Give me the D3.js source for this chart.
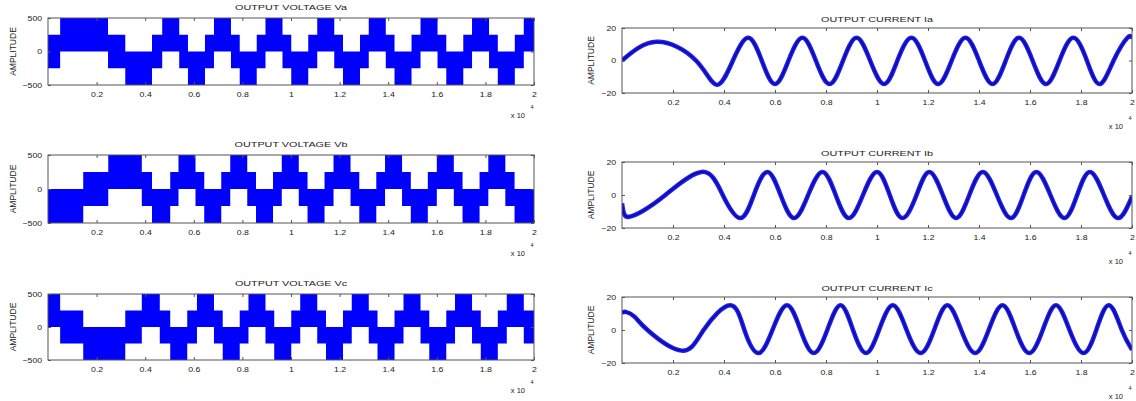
<!DOCTYPE html>
<html>
<head>
<meta charset="utf-8">
<script src="https://cdn.jsdelivr.net/npm/d3@7"></script>
<style>
body { margin: 0; background: #fff; }
text { font-family: "Liberation Sans", Arial, sans-serif; fill: #222; }
</style>
</head>
<body>
<div id="chart"></div>
<script>
// x axis ticks (x 10^4 samples)
var xTicks = [0.2, 0.4, 0.6, 0.8, 1, 1.2, 1.4, 1.6, 1.8, 2];
var voltTicks = [-500, 0, 500];
var currTicks = [-20, 0, 20];
var halfBand = 250;   // PWM band: level +/- 250

// voltage: [time, band middle level]
var vaSteps = [[0,0],[0.05,250],[0.247,0],[0.318,-250],[0.428,0],[0.47,250],[0.54,0],[0.576,-250],[0.646,0],
  [0.683,250],[0.753,0],[0.789,-250],[0.859,0],[0.895,250],[0.965,0],[1.001,-250],[1.071,0],[1.108,250],
  [1.178,0],[1.214,-250],[1.284,0],[1.32,250],[1.39,0],[1.426,-250],[1.496,0],[1.533,250],[1.603,0],
  [1.639,-250],[1.709,0],[1.745,250],[1.815,0],[1.851,-250],[1.921,0],[1.958,250],[2,250]];
var vbSteps = [[0,-250],[0.145,0],[0.248,250],[0.386,0],[0.428,-250],[0.503,0],[0.537,250],[0.607,0],
  [0.643,-250],[0.713,0],[0.75,250],[0.82,0],[0.856,-250],[0.926,0],[0.962,250],[1.032,0],[1.068,-250],
  [1.138,0],[1.175,250],[1.245,0],[1.281,-250],[1.351,0],[1.387,250],[1.457,0],[1.493,-250],[1.563,0],
  [1.6,250],[1.67,0],[1.706,-250],[1.776,0],[1.812,250],[1.882,0],[1.92,-250],[2,-250]];
var vcSteps = [[0,250],[0.05,0],[0.145,-250],[0.318,0],[0.386,250],[0.46,0],[0.503,-250],[0.573,0],
  [0.613,250],[0.683,0],[0.719,-250],[0.789,0],[0.825,250],[0.895,0],[0.931,-250],[1.001,0],[1.038,250],
  [1.108,0],[1.144,-250],[1.214,0],[1.25,250],[1.32,0],[1.356,-250],[1.426,0],[1.463,250],[1.533,0],
  [1.569,-250],[1.639,0],[1.675,250],[1.745,0],[1.781,-250],[1.851,0],[1.888,250],[1.958,0],[2,0]];

// current: [time, amps] (extrema and zero crossings)
var iaPts = [[0,0],[0.136,11.5],[0.29,0],[0.372,-15],[0.435,0],[0.495,14],[0.548,0],[0.6,-14.5],[0.653,0],
  [0.7075,14],[0.76,0],[0.814,-14.5],[0.867,0],[0.92,14],[0.973,0],[1.028,-14.5],[1.08,0],[1.135,14],
  [1.188,0],[1.24,-14.5],[1.293,0],[1.347,14],[1.4,0],[1.453,-14.5],[1.505,0],[1.557,14],[1.61,0],
  [1.663,-14.5],[1.716,0],[1.77,14],[1.823,0],[1.873,-14.5],[1.928,0],[1.982,14],[2,13.5]];
var ibPts = [[0,-5],[0.01,-12],[0.035,-13],[0.083,-9.5],[0.17,0],[0.313,14],[0.395,0],[0.464,-14],
  [0.517,0],[0.57,14],[0.622,0],[0.675,-14],[0.73,0],[0.786,14],[0.838,0],[0.89,-14],[0.945,0],[1,14],
  [1.05,0],[1.1,-14],[1.155,0],[1.205,14],[1.258,0],[1.31,-14],[1.362,0],[1.415,14],[1.47,0],[1.525,-14],
  [1.575,0],[1.625,14],[1.68,0],[1.735,-14],[1.785,0],[1.835,14],[1.89,0],[1.945,-14],[2,-1]];
var icPts = [[0,10],[0.015,11],[0.05,8],[0.1,0],[0.234,-12.5],[0.32,0],[0.424,15],[0.48,0],[0.535,-14],
  [0.59,0],[0.647,15],[0.7,0],[0.752,-14],[0.805,0],[0.857,15],[0.906,0],[0.957,-14],[1.008,0],[1.062,15],
  [1.116,0],[1.171,-14],[1.224,0],[1.276,15],[1.33,0],[1.385,-14],[1.438,0],[1.492,15],[1.544,0],
  [1.597,-14],[1.65,0],[1.702,15],[1.755,0],[1.81,-14],[1.86,0],[1.91,15],[1.96,0],[2,-12]];

var panels = [
  {title: "OUTPUT VOLTAGE Va", data: vaSteps, kind: "v", col: 0, row: 0},
  {title: "OUTPUT VOLTAGE Vb", data: vbSteps, kind: "v", col: 0, row: 1},
  {title: "OUTPUT VOLTAGE Vc", data: vcSteps, kind: "v", col: 0, row: 2},
  {title: "OUTPUT CURRENT Ia", data: iaPts, kind: "i", col: 1, row: 0},
  {title: "OUTPUT CURRENT Ib", data: ibPts, kind: "i", col: 1, row: 1},
  {title: "OUTPUT CURRENT Ic", data: icPts, kind: "i", col: 1, row: 2}
];

var width = 1136, height = 401;
var colX = [[48, 534], [622, 1132]];
var rowY = [[[18, 85], [155, 223], [294, 360]], [[28, 93], [162, 228], [297, 363]]];

var svg = d3.select("#chart").append("svg")
  .attr("width", width)
  .attr("height", height);

function styleAxis(sel, sx) {
  sel.select(".domain").remove();
  sel.selectAll(".tick line").attr("stroke", "#555");
  sel.selectAll("text")
    .attr("font-size", 7.5)
    .attr("fill", "#222")
    .attr("transform", "scale(" + sx + ",1)");
  sel.attr("font-family", null);
}

panels.forEach(function(p, k) {
  var xr = colX[p.col], yr = rowY[p.col][p.row];
  var x = d3.scaleLinear().domain([0, 2]).range(xr);
  var y = d3.scaleLinear()
    .domain(p.kind == "v" ? [-500, 500] : [-20, 20])
    .range([yr[1], yr[0]]);
  var g = svg.append("g");

  g.append("clipPath").attr("id", "clip" + k)
    .append("rect")
    .attr("x", xr[0]).attr("y", yr[0])
    .attr("width", xr[1] - xr[0]).attr("height", yr[1] - yr[0]);

  var plot = g.append("g").attr("clip-path", "url(#clip" + k + ")");

  if (p.kind == "v") {
    var area = d3.area()
      .curve(d3.curveStepAfter)
      .x(function(d) { return x(d[0]); })
      .y0(function(d) { return y(d[1] - halfBand); })
      .y1(function(d) { return y(d[1] + halfBand); });
    plot.append("path")
      .datum(p.data)
      .attr("d", area)
      .attr("fill", "#0000ff");
  } else {
    var line = d3.line()
      .curve(d3.curveNatural)
      .x(function(d) { return x(d[0]); })
      .y(function(d) { return y(d[1]); });
    plot.append("path")
      .datum(p.data)
      .attr("d", line)
      .attr("fill", "none")
      .attr("stroke", "#2020f0")
      .attr("stroke-width", 4.5);
    plot.append("path")
      .datum(p.data)
      .attr("d", line)
      .attr("fill", "none")
      .attr("stroke", "#000080")
      .attr("stroke-opacity", 0.6)
      .attr("stroke-width", 1.8);
  }

  // box
  g.append("rect")
    .attr("x", xr[0]).attr("y", yr[0])
    .attr("width", xr[1] - xr[0]).attr("height", yr[1] - yr[0])
    .attr("fill", "none")
    .attr("stroke", "#555")
    .attr("stroke-width", 1);

  var yTicks = p.kind == "v" ? voltTicks : currTicks;

  g.append("g")
    .attr("transform", "translate(0," + yr[1] + ")")
    .call(d3.axisBottom(x).tickValues(xTicks).tickSize(-3).tickPadding(7).tickFormat(d3.format("~g")))
    .call(styleAxis, 1.17);
  g.append("g")
    .attr("transform", "translate(0," + yr[0] + ")")
    .call(d3.axisTop(x).tickValues(xTicks).tickSize(-3).tickFormat(""))
    .call(styleAxis, 1);
  g.append("g")
    .attr("transform", "translate(" + xr[0] + ",0)")
    .call(d3.axisLeft(y).tickValues(yTicks).tickSize(-3).tickPadding(5))
    .call(styleAxis, 1.17);
  g.append("g")
    .attr("transform", "translate(" + xr[1] + ",0)")
    .call(d3.axisRight(y).tickValues(yTicks).tickSize(-3).tickFormat(""))
    .call(styleAxis, 1);

  // title
  g.append("text")
    .attr("transform", "translate(" + ((xr[0] + xr[1]) / 2) + "," + (yr[0] - (p.col == 0 ? 11 : 9)) + ") scale(1.35,1)")
    .attr("text-anchor", "middle")
    .attr("dy", "0.35em")
    .attr("font-size", 8)
    .text(p.title);

  // y label
  g.append("text")
    .attr("transform", "translate(" + (p.col == 0 ? 13 : 591) + "," + ((yr[0] + yr[1]) / 2) + ") rotate(-90)")
    .attr("text-anchor", "middle")
    .attr("dy", "0.35em")
    .attr("font-size", 8.5)
    .text("AMPLITUDE");

  // x 10^4 multiplier
  var off = p.col == 0 ? 30 : 33;
  g.append("text")
    .attr("x", xr[1] - 9)
    .attr("y", yr[1] + off)
    .attr("dy", "0.35em")
    .attr("text-anchor", "end")
    .attr("font-size", 7.5)
    .text("x 10");
  g.append("text")
    .attr("x", xr[1] - 2)
    .attr("y", yr[1] + off - 8)
    .attr("dy", "0.35em")
    .attr("text-anchor", "middle")
    .attr("font-size", 5.5)
    .text("4");
});
</script>
</body>
</html>
